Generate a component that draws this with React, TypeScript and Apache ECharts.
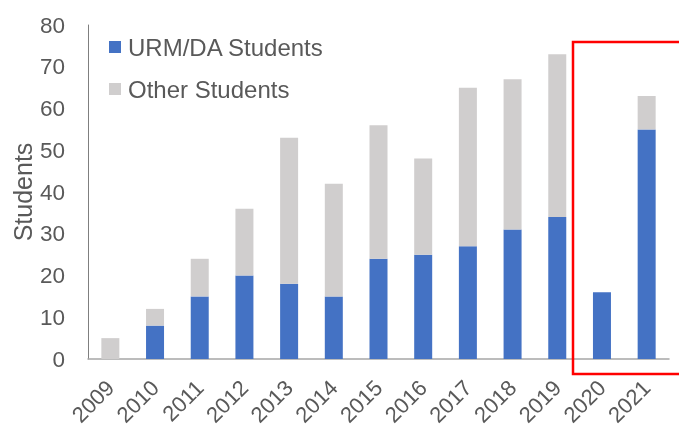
import React, { useEffect, useRef } from "react";
import * as echarts from "echarts";

const years = ["2009", "2010", "2011", "2012", "2013", "2014", "2015", "2016", "2017", "2018", "2019", "2020", "2021"];
const urmStudents = [0, 8, 15, 20, 18, 15, 24, 25, 27, 31, 34, 16, 55];
const otherStudents = [5, 4, 9, 16, 35, 27, 32, 23, 38, 36, 39, 0, 8];
const yTicks = { min: 0, max: 80, interval: 10 };

const FONT = "Liberation Sans, Arial, sans-serif";
const TEXT = "#595959";

export default function App() {
  const ref = useRef<HTMLDivElement>(null);
  useEffect(() => {
    if (!ref.current) return;
    const chart = echarts.init(ref.current, undefined, { renderer: "svg" });
    chart.setOption({
      animation: false,
      textStyle: { fontFamily: FONT },
      grid: { left: 88, right: 10, top: 25, bottom: 69, containLabel: false, outerBoundsMode: "none" },
      legend: {
        orient: "vertical",
        left: 104,
        top: 30,
        itemWidth: 12,
        itemHeight: 12,
        itemGap: 18,
        icon: "rect",
        textStyle: { fontFamily: FONT, fontSize: 24, color: TEXT, padding: [0, 0, 0, 2] },
        data: ["URM/DA Students", "Other Students"],
      },
      xAxis: {
        type: "category",
        data: years,
        axisLine: { lineStyle: { color: "#a6a6a6", width: 1.5 } },
        axisTick: { show: false },
        axisLabel: {
          rotate: 45,
          fontSize: 22,
          color: TEXT,
          margin: 25,
          fontFamily: FONT,
          interval: 0,
        },
      },
      yAxis: {
        type: "value",
        min: yTicks.min,
        max: yTicks.max,
        interval: yTicks.interval,
        name: "Students",
        nameLocation: "middle",
        nameGap: 53,
        nameMoveOverlap: false,
        nameTextStyle: { fontSize: 25, color: TEXT, fontFamily: FONT },
        axisLine: { show: true, lineStyle: { color: "#7f7f7f", width: 1 } },
        axisTick: { show: false },
        splitLine: { show: false },
        axisLabel: { fontSize: 22.5, color: TEXT, margin: 23, fontFamily: FONT },
      },
      series: [
        {
          name: "URM/DA Students",
          type: "bar",
          stack: "total",
          barWidth: 18,
          itemStyle: { color: "#4472C4" },
          data: urmStudents,
        },
        {
          name: "Other Students",
          type: "bar",
          stack: "total",
          barWidth: 18,
          itemStyle: { color: "#D0CECE" },
          data: otherStudents,
        },
      ],
      graphic: [
        {
          type: "rect",
          shape: { x: 573, y: 42, width: 130, height: 332 },
          style: { fill: "none", stroke: "#ff0000", lineWidth: 2.5 },
          z: 100,
        },
      ],
    });
    return () => chart.dispose();
  }, []);
  return <div ref={ref} style={{ position: "fixed", left: 0, top: 0, width: 679, height: 428 }} />;
}
